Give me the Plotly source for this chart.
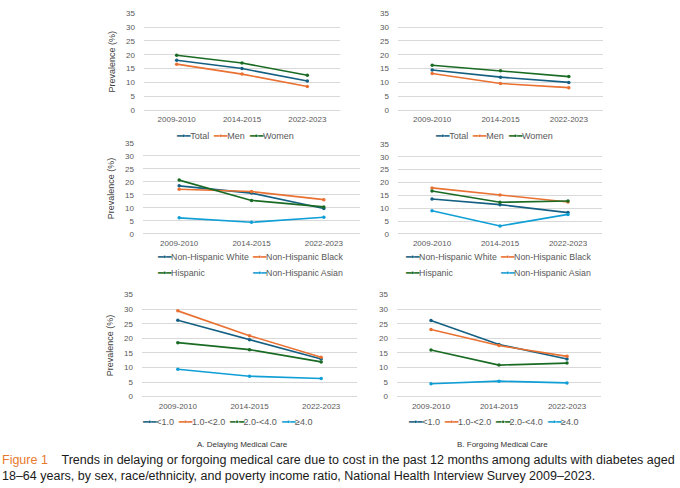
import plotly.graph_objects as go

periods = ["2009-2010", "2014-2015", "2022-2023"]

sex_labels = ["Total", "Men", "Women"]
race_labels = ["Non-Hispanic White", "Non-Hispanic Black", "Hispanic", "Non-Hispanic Asian"]
pir_labels = ["<1.0", "1.0-<2.0", "2.0-<4.0", "≥4.0"]

# A. Delaying medical care (%)
delay_sex = [[18.0, 15.0, 10.5], [16.6, 13.0, 8.5], [19.8, 17.0, 12.6]]
delay_race = [[18.5, 15.7, 9.8], [17.2, 16.3, 13.2], [20.7, 12.9, 10.4], [6.2, 4.5, 6.4]]
delay_pir = [[26.2, 19.5, 12.9], [29.4, 20.9, 13.5], [18.5, 16.1, 11.9], [9.4, 7.0, 6.2]]

# B. Forgoing medical care (%)
forgo_sex = [[14.5, 11.9, 10.0], [13.2, 9.6, 8.1], [16.2, 14.2, 12.1]]
forgo_race = [[13.6, 11.4, 8.3], [17.9, 15.1, 12.4], [16.7, 12.3, 12.8], [9.0, 3.1, 7.6]]
forgo_pir = [[26.1, 17.9, 12.9], [23.0, 17.5, 13.8], [16.0, 10.8, 11.5], [4.4, 5.3, 4.7]]

colors = ["#156082", "#E97132", "#196B24", "#0F9ED5"]

W, H = 680, 488
TICK = "#595959"
GRID = "#D9D9D9"
FONT = "Liberation Sans, Arial, sans-serif"


def px_x(v):
    return v / W


def px_y(v):
    return 1 - v / H


# panel boxes in pixels: (left, right, top(35), bottom(0))
panels = [
    (144, 340, 9.5, 108),
    (398, 603, 9.5, 108),
    (143, 360, 141.5, 234.3),
    (398, 602, 142.5, 234.3),
    (142, 357, 296, 400),
    (397, 601, 296, 400),
]

fig = go.Figure()


def add_panel(n, labels, values):
    for i, (name, vals) in enumerate(zip(labels, values)):
        fig.add_trace(go.Scatter(
            x=periods, y=vals, name=name, mode="lines+markers",
            line=dict(color=colors[i], width=1.6),
            marker=dict(color=colors[i], size=3.5),
            xaxis="x%d" % n, yaxis="y%d" % n,
            showlegend=False,
            hoverinfo="x+y+name",
        ))


add_panel(1, sex_labels, delay_sex)
add_panel(2, sex_labels, forgo_sex)
add_panel(3, race_labels, delay_race)
add_panel(4, race_labels, forgo_race)
add_panel(5, pir_labels, delay_pir)
add_panel(6, pir_labels, forgo_pir)

layout = {}
for n, (l, r, t, b) in enumerate(panels, start=1):
    layout["xaxis%d" % n] = dict(
        domain=[px_x(l), px_x(r)], anchor="y%d" % n, type="category",
        range=[-0.5, 2.5], showgrid=False, zeroline=False, showline=False,
        ticks="", tickfont=dict(size=8, color=TICK), ticklabelstandoff=3,
    )
    ya = dict(
        domain=[px_y(b), px_y(t)], anchor="x%d" % n, range=[0, 35], dtick=5,
        showgrid=True, gridcolor=GRID, gridwidth=0.8,
        zeroline=True, zerolinecolor=GRID, zerolinewidth=0.8,
        showline=False, ticks="", tickfont=dict(size=8, color=TICK),
        ticklabelstandoff=8,
    )
    if n % 2 == 1:
        ya["title"] = dict(text="Prevalence (%)", font=dict(size=9, color="#404040"),
                           standoff=8)
    layout["yaxis%d" % n] = ya


def key(i, label):
    # compact Excel-style legend key: short line with a dot, then the label
    return "<span style='color:%s'>━•━</span>%s" % (colors[i], label)


def legend_note(text, x, y, anchor="center", size=9):
    return dict(text=text, x=px_x(x), y=px_y(y), xref="paper", yref="paper",
                showarrow=False, xanchor=anchor, yanchor="middle",
                font=dict(size=size, color=TICK))


gap = "&nbsp;&nbsp;"
sex_row = gap.join(key(i, s) for i, s in enumerate(sex_labels))
pir_row = gap.join(key(i, s) for i, s in enumerate(pir_labels))

legend_notes = [
    legend_note(sex_row, 235, 134),
    legend_note(sex_row, 494, 134),
    legend_note(pir_row, 227, 426),
    legend_note(pir_row, 493, 426),
]
# race legends: two aligned columns, two rows
for col_a, col_b in [(155, 250), (403, 498)]:
    legend_notes += [
        legend_note(key(0, race_labels[0]), col_a, 258, "left", 8.8),
        legend_note(key(1, race_labels[1]), col_b, 258, "left", 8.8),
        legend_note(key(2, race_labels[2]), col_a, 274, "left", 8.8),
        legend_note(key(3, race_labels[3]), col_b, 274, "left", 8.8),
    ]

caption = ("<span style='color:#E8792B'>Figure 1</span>&nbsp;&nbsp;&nbsp; Trends in delaying or forgoing "
           "medical care due to cost in the past 12 months among adults with diabetes aged<br>"
           "18–64 years, by sex, race/ethnicity, and poverty income ratio, National Health "
           "Interview Survey 2009–2023.")

annotations = legend_notes + [
    dict(text="A. Delaying Medical Care", x=px_x(242), y=px_y(449), xref="paper", yref="paper",
         showarrow=False, xanchor="center", yanchor="middle",
         font=dict(size=8, color="#333333")),
    dict(text="B. Forgoing Medical Care", x=px_x(502), y=px_y(449), xref="paper", yref="paper",
         showarrow=False, xanchor="center", yanchor="middle",
         font=dict(size=8, color="#333333")),
    dict(text=caption, x=0, y=px_y(473), xref="paper", yref="paper",
         showarrow=False, xanchor="left", yanchor="middle", align="left",
         font=dict(size=12.5, color="#1A1A1A", family=FONT)),
]

fig.update_layout(
    width=W, height=H,
    margin=dict(l=0, r=0, t=0, b=0),
    paper_bgcolor="white", plot_bgcolor="white",
    font=dict(family=FONT, color=TICK),
    annotations=annotations,
    **layout,
)

fig.write_html("out.html", config={"displayModeBar": False},
               post_script="document.body.style.margin = '0px';")
